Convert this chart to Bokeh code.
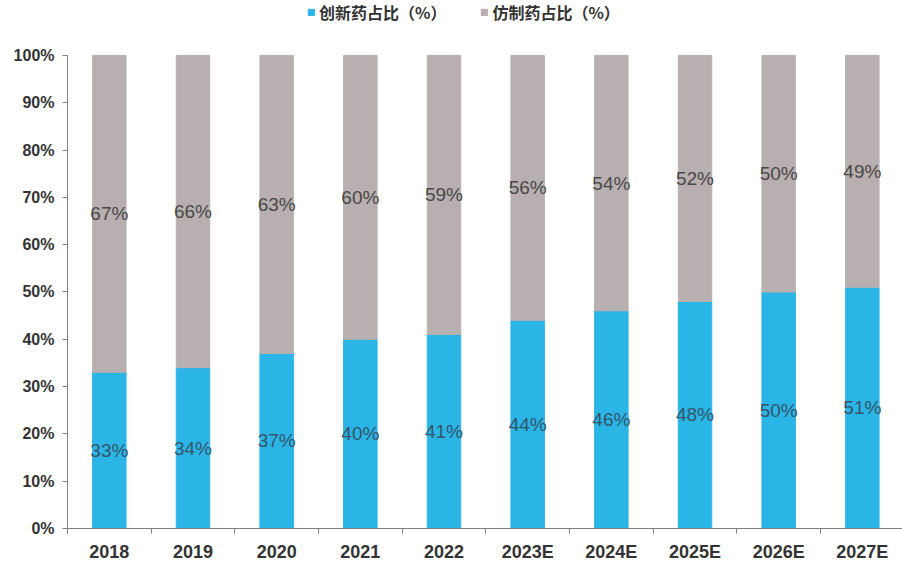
from bokeh.plotting import figure
from bokeh.models import (ColumnDataSource, Range1d, FixedTicker, PrintfTickFormatter,
                          Legend, LegendItem, LabelSet)
from bokeh.embed import file_html
from bokeh.resources import INLINE
from bokeh.core.properties import value

years = ["2018", "2019", "2020", "2021", "2022", "2023E", "2024E", "2025E", "2026E", "2027E"]
innov = [33, 34, 37, 40, 41, 44, 46, 48, 50, 51]
generic = [67, 66, 63, 60, 59, 56, 54, 52, 50, 49]

x = list(range(len(years)))
src = ColumnDataSource(dict(
    x=x,
    innov=innov,
    generic=generic,
    top_all=[a + b for a, b in zip(innov, generic)],
    innov_mid=[a / 2 for a in innov],
    gen_mid=[a + b / 2 for a, b in zip(innov, generic)],
    innov_lbl=[f"{a}%" for a in innov],
    gen_lbl=[f"{b}%" for b in generic],
))

BLUE = "#2BB5E6"
GREY = "#B8B0B0"

p = figure(width=902, height=567, output_backend="svg", toolbar_location=None,
           x_range=Range1d(-0.5, 9.48), y_range=Range1d(0, 111.6),
           min_border_left=67, min_border_right=0, min_border_top=0, min_border_bottom=39)
p.outline_line_color = None
p.grid.grid_line_color = None
p.background_fill_color = "white"

r1 = p.vbar(x="x", bottom=0, top="innov", width=0.4, color=BLUE, source=src)
r2 = p.vbar(x="x", bottom="innov", top="top_all", width=0.4, color=GREY, source=src)

FONT = "Liberation Sans"
lab1 = LabelSet(x="x", y="innov_mid", text="innov_lbl", source=src, text_align="center",
                text_baseline="middle", text_font=value(FONT), text_font_size="19px",
                text_color="#33546a")
lab2 = LabelSet(x="x", y="gen_mid", text="gen_lbl", source=src, text_align="center",
                text_baseline="middle", text_font=value(FONT), text_font_size="19px",
                text_color="#484848")
p.add_layout(lab1)
p.add_layout(lab2)

# y axis
ya = p.yaxis[0]
ya.ticker = FixedTicker(ticks=list(range(0, 101, 10)))
ya.bounds = (0, 100)
ya.formatter = PrintfTickFormatter(format="%d%%")
ya.major_label_text_font = FONT
ya.major_label_text_font_style = "bold"
ya.major_label_text_font_size = "16px"
ya.major_label_text_color = "#333333"
ya.axis_line_color = "#7f7f7f"
ya.major_tick_line_color = "#7f7f7f"
ya.major_tick_in = 0
ya.major_tick_out = 5
ya.minor_tick_line_color = None
ya.major_label_standoff = 8

# x axis
xa = p.xaxis[0]
xa.ticker = FixedTicker(ticks=x, minor_ticks=[i - 0.5 for i in range(len(years) + 1)])
xa.major_label_overrides = {i: y for i, y in enumerate(years)}
xa.major_label_text_font = FONT
xa.major_label_text_font_style = "bold"
xa.major_label_text_font_size = "18px"
xa.major_label_text_color = "#333333"
xa.axis_line_color = "#7f7f7f"
xa.major_tick_line_color = None
xa.major_tick_in = 0
xa.major_tick_out = 0
xa.minor_tick_line_color = "#7f7f7f"
xa.minor_tick_in = 0
xa.minor_tick_out = 5
xa.major_label_standoff = 8

legend = Legend(items=[LegendItem(label="创新药占比（%）", renderers=[r1]),
                       LegendItem(label="仿制药占比（%）", renderers=[r2])],
                orientation="horizontal", location=(240, 504),
                label_text_font="Noto Sans CJK SC", label_text_font_style="bold",
                label_text_font_size="16px", label_text_color="#333333",
                glyph_width=8, glyph_height=8, spacing=34, padding=0, margin=0,
                border_line_color=None, background_fill_alpha=0,
                label_standoff=4, label_height=20)
p.add_layout(legend)

open("out.html", "w").write(file_html(p, INLINE))
